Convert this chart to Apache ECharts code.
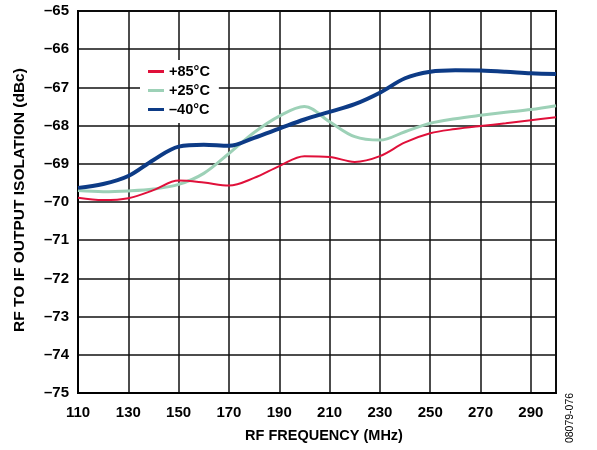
<!DOCTYPE html>
<html>
<head>
<meta charset="utf-8">
<script src="https://cdn.jsdelivr.net/npm/echarts@6/dist/echarts.min.js"></script>
<style>html,body{margin:0;padding:0;background:#fff}#c{width:597px;height:450px}</style>
</head>
<body>
<div id="c"></div>
<script>
var freqs = [110,120,130,140,150,160,170,180,190,200,210,220,230,240,250,260,270,280,290,300];
var t85  = [-69.89,-69.95,-69.90,-69.69,-69.44,-69.49,-69.57,-69.37,-69.06,-68.80,-68.82,-68.95,-68.80,-68.44,-68.20,-68.09,-68.01,-67.94,-67.86,-67.78];
var t25  = [-69.70,-69.73,-69.71,-69.66,-69.54,-69.25,-68.73,-68.18,-67.75,-67.50,-67.90,-68.29,-68.38,-68.16,-67.94,-67.82,-67.73,-67.65,-67.58,-67.48];
var tm40 = [-69.63,-69.53,-69.32,-68.90,-68.55,-68.50,-68.53,-68.32,-68.08,-67.84,-67.64,-67.44,-67.14,-66.76,-66.59,-66.55,-66.56,-66.59,-66.63,-66.65];
var seriesNames = ['+85°C','+25°C','\u201340°C'];
var xTickLabels = [110,130,150,170,190,210,230,250,270,290];
var yMin = -75, yMax = -65;
var xStart = 110, xEnd = 300;
var xTitle = 'RF FREQUENCY (MHz)';
var yTitle = 'RF TO IF OUTPUT ISOLATION (dBc)';

function pts(vals){ return freqs.map(function(f,i){ return [f - xStart, vals[i]]; }); }
var font = 'Liberation Sans, Arial, sans-serif';
var chart = echarts.init(document.getElementById('c'), null, {renderer:'canvas'});
chart.setOption({
  animation:false,
  backgroundColor:'#fff',
  grid:{left:78,right:41,top:11,bottom:57,show:true,borderColor:'#000',borderWidth:2,backgroundColor:'transparent'},
  xAxis:{type:'value',min:0,max:xEnd-xStart,interval:20,
    axisLine:{lineStyle:{color:'#000',width:2}},axisTick:{show:false},
    splitLine:{lineStyle:{color:'#111',width:1.5}},
    axisLabel:{color:'#000',fontFamily:font,fontWeight:'bold',fontSize:15,margin:12,showMaxLabel:false,
      formatter:function(v){ var f=v+xStart; return xTickLabels.indexOf(f)>=0? String(f):''; }},
    name:xTitle,nameLocation:'middle',nameGap:35,
    nameTextStyle:{color:'#000',fontFamily:font,fontWeight:'bold',fontSize:14.5,padding:[0,0,0,14]}},
  yAxis:{type:'value',min:yMin,max:yMax,interval:1,
    axisLine:{show:true,lineStyle:{color:'#000',width:2}},axisTick:{show:false},
    splitLine:{lineStyle:{color:'#111',width:1.5}},
    axisLabel:{color:'#000',fontFamily:font,fontWeight:'bold',fontSize:15,margin:9,
      formatter:function(v){ return String(v).replace('-','\u2013'); }}},
  legend:{orient:'vertical',left:140,top:60,itemGap:4,itemWidth:16,itemHeight:3,icon:'rect',
    backgroundColor:'#fff',padding:[4,9,6,8],
    textStyle:{color:'#000',fontFamily:font,fontWeight:'bold',fontSize:14.5},
    data:seriesNames},
  series:[
    {name:seriesNames[1],type:'line',data:pts(t25),smooth:0.35,showSymbol:false,symbol:'none',
      lineStyle:{color:'#9dd1b7',width:3},itemStyle:{color:'#9dd1b7'},z:2},
    {name:seriesNames[2],type:'line',data:pts(tm40),smooth:0.35,showSymbol:false,symbol:'none',
      lineStyle:{color:'#0d3b86',width:4},itemStyle:{color:'#0d3b86'},z:3},
    {name:seriesNames[0],type:'line',data:pts(t85),smooth:0.35,showSymbol:false,symbol:'none',
      lineStyle:{color:'#e0103a',width:2},itemStyle:{color:'#e0103a'},z:4}
  ],
  graphic:[
    {type:'text',x:20,y:200,rotation:Math.PI/2,
      style:{text:yTitle,fill:'#000',font:'bold 15.5px Liberation Sans, Arial, sans-serif',align:'center',verticalAlign:'middle'}},
    {type:'text',x:570,y:418,rotation:Math.PI/2,
      style:{text:'08079-076',fill:'#000',font:'10.5px Liberation Sans, Arial, sans-serif',align:'center',verticalAlign:'middle'}}]
});
</script>
</body>
</html>
